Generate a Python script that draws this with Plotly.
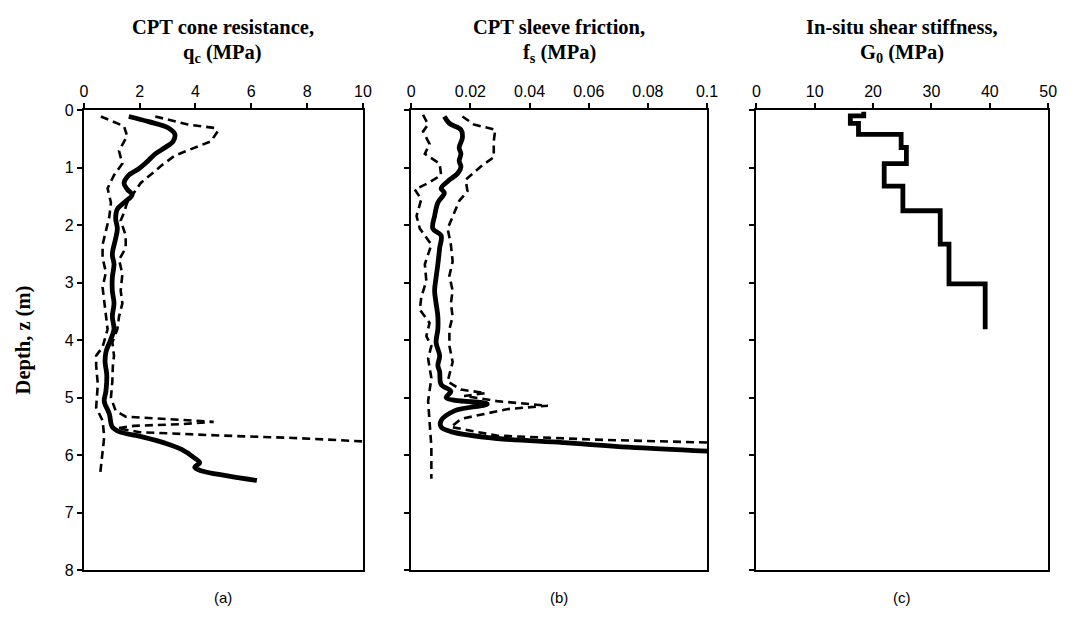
import plotly.graph_objects as go

# ---------------- data ----------------
# Panel (a): cone resistance qc (MPa) vs depth (m)
qc_mean_x = [1.61, 2.32, 3.03, 3.26, 3.2, 2.91, 2.56, 2.26, 1.97, 1.61, 1.44, 1.56, 1.73, 1.44, 1.2, 1.14,
             1.2, 1.14, 1.02, 1.08, 1.02, 1.02, 1.08, 1.02, 1.08, 0.97, 0.79, 0.76, 0.82, 0.79, 0.73, 0.91,
             1.02, 1.26, 2.08, 2.91, 3.5, 3.97, 4.15, 3.97, 4.2, 5.15, 6.2]
qc_mean_z = [0.11, 0.2, 0.31, 0.42, 0.54, 0.65, 0.76, 0.9, 1.02, 1.13, 1.27, 1.38, 1.47, 1.61, 1.72, 1.89,
             2.06, 2.23, 2.51, 2.68, 2.91, 3.14, 3.36, 3.59, 3.81, 3.98, 4.21, 4.38, 4.6, 4.89, 5.06, 5.28,
             5.51, 5.59, 5.68, 5.79, 5.9, 6.05, 6.13, 6.21, 6.27, 6.36, 6.44]

qc_max_x = [2.56, 3.73, 4.68, 4.79, 4.56, 3.97, 3.26, 2.79, 2.44, 2.03, 1.79, 1.55, 1.44, 1.32, 1.5, 1.5,
            1.26, 1.38, 1.32, 1.38, 1.26, 1.2, 1.02, 1.08, 1.04, 1.02, 0.97, 1.14, 1.5, 2.8, 4.65, 3.5, 1.8,
            1.2, 2.0, 5.0, 7.5, 10.0]
qc_max_z = [0.11, 0.25, 0.31, 0.37, 0.54, 0.65, 0.79, 0.96, 1.1, 1.27, 1.44, 1.61, 1.78, 1.92, 2.18, 2.4,
            2.6, 2.85, 3.14, 3.36, 3.59, 3.81, 4.04, 4.27, 4.44, 4.72, 5.0, 5.23, 5.33, 5.37, 5.42, 5.46, 5.49,
            5.53, 5.6, 5.66, 5.7, 5.76]

qc_min_x = [0.61, 1.44, 1.55, 1.26, 1.38, 1.08, 0.85, 0.97, 0.91, 0.79, 0.67, 0.67, 0.79, 0.67, 0.73, 0.79,
            0.85, 0.67, 0.44, 0.44, 0.5, 0.44, 0.67, 0.73, 0.67, 0.59]
qc_min_z = [0.11, 0.28, 0.45, 0.71, 0.93, 1.13, 1.36, 1.61, 1.86, 2.12, 2.34, 2.57, 2.82, 3.08, 3.31, 3.53,
            3.81, 4.12, 4.27, 4.44, 4.77, 5.17, 5.4, 5.68, 5.96, 6.3]

# Panel (b): sleeve friction fs (MPa) vs depth (m)
fs_mean_x = [0.0112, 0.0129, 0.0168, 0.0173, 0.0162, 0.0168, 0.0162, 0.0168, 0.0157, 0.0123, 0.0101, 0.0112,
             0.009, 0.0079, 0.0073, 0.0101, 0.0096, 0.009, 0.0084, 0.0079, 0.0084, 0.009, 0.009, 0.0084,
             0.0096, 0.009, 0.0096, 0.0101, 0.0134, 0.0118, 0.0257, 0.0146, 0.0101, 0.0101, 0.0134, 0.029,
             0.0512, 0.0734, 0.1]
fs_mean_z = [0.11, 0.23, 0.34, 0.48, 0.65, 0.76, 0.88, 0.99, 1.1, 1.24, 1.36, 1.44,
             1.61, 1.84, 2.06, 2.18, 2.4, 2.68, 2.91, 3.14, 3.36, 3.59, 3.81, 4.04,
             4.27, 4.44, 4.55, 4.77, 4.89, 5.0, 5.11, 5.23, 5.4, 5.51, 5.59, 5.71,
             5.78, 5.86, 5.93]

fs_max_x = [0.0173, 0.0212, 0.0284, 0.0279, 0.0279, 0.024, 0.0184, 0.019, 0.0162, 0.014, 0.0123, 0.0134,
            0.014, 0.0129, 0.014, 0.0134, 0.014, 0.0129, 0.0129, 0.014, 0.0134, 0.0123, 0.0168, 0.0251,
            0.0179, 0.029, 0.0462, 0.0323, 0.0168, 0.0134, 0.029, 0.0623, 0.1]
fs_max_z = [0.11, 0.25, 0.34, 0.54, 0.82, 0.96, 1.21, 1.41, 1.58, 1.84, 2.06, 2.34,
            2.63, 2.88, 3.14, 3.36, 3.59, 3.81, 4.1, 4.38, 4.49, 4.72, 4.86, 4.92,
            4.97, 5.06, 5.14, 5.2, 5.37, 5.51, 5.66, 5.73, 5.78]

fs_min_x = [0.004, 0.0057, 0.004, 0.0062, 0.0046, 0.0096, 0.0101, 0.0057, 0.0012, 0.0034, 0.0018, 0.0029,
            0.0068, 0.0046, 0.0051, 0.0034, 0.0029, 0.0062, 0.0051, 0.0068, 0.0057, 0.0068, 0.0057,
            0.0062, 0.0068, 0.0068]
fs_min_z = [0.08, 0.25, 0.37, 0.59, 0.76, 0.93, 1.13, 1.27, 1.38, 1.55, 1.84, 2.06,
            2.34, 2.68, 2.97, 3.25, 3.47, 3.7, 3.93, 4.1, 4.32, 4.66, 5.06,
            5.45, 5.85, 6.41]

# Panel (c): shear stiffness G0 (MPa) per layer
layer_top = [0.03, 0.10, 0.23, 0.42, 0.65, 0.93, 1.32, 1.75, 2.33, 3.02]
layer_bot = [0.10, 0.23, 0.42, 0.65, 0.93, 1.32, 1.75, 2.33, 3.02, 3.81]
g0_vals = [18.4, 16.1, 17.5, 24.8, 25.7, 21.9, 25.1, 31.5, 33.0, 39.2]

qc_ticks = [0, 2, 4, 6, 8, 10]
fs_ticks = [0, 0.02, 0.04, 0.06, 0.08, 0.1]
fs_ticklabels = ["0", "0.02", "0.04", "0.06", "0.08", "0.1"]
g0_ticks = [0, 10, 20, 30, 40, 50]
depth_ticks = [0, 1, 2, 3, 4, 5, 6, 7, 8]

# build step coordinates for G0
g0_x, g0_z = [], []
for t, b, g in zip(layer_top, layer_bot, g0_vals):
    g0_x += [g, g]
    g0_z += [t, b]

# ---------------- figure ----------------
W, H = 1075, 622
def xd(a, b):
    return [a / W, b / W]
ydom = [1 - 578 / H, 1 - 105 / H]

fig = go.Figure()
solid = dict(color="black", width=4.8)
dashed = dict(color="black", width=2.6, dash="8px,5px")

fig.add_trace(go.Scatter(x=qc_min_x, y=qc_min_z, mode="lines", line=dashed, xaxis="x", yaxis="y"))
fig.add_trace(go.Scatter(x=qc_max_x, y=qc_max_z, mode="lines", line=dashed, xaxis="x", yaxis="y"))
fig.add_trace(go.Scatter(x=qc_mean_x, y=qc_mean_z, mode="lines", line=solid, line_shape="spline",
                         xaxis="x", yaxis="y"))

fig.add_trace(go.Scatter(x=fs_min_x, y=fs_min_z, mode="lines", line=dashed, xaxis="x2", yaxis="y2"))
fig.add_trace(go.Scatter(x=fs_max_x, y=fs_max_z, mode="lines", line=dashed, xaxis="x2", yaxis="y2"))
fig.add_trace(go.Scatter(x=fs_mean_x, y=fs_mean_z, mode="lines", line=solid, line_shape="spline",
                         xaxis="x2", yaxis="y2"))

fig.add_trace(go.Scatter(x=g0_x, y=g0_z, mode="lines", line=dict(color="black", width=4.8),
                         xaxis="x3", yaxis="y3"))

tickfont = dict(family="Liberation Sans, Arial", size=16, color="black")
common_x = dict(side="top", showline=True, linecolor="black", linewidth=2, mirror=True,
                ticks="outside", ticklen=5, tickwidth=1.5, tickcolor="black",
                showgrid=False, zeroline=False, tickfont=tickfont, fixedrange=True)
common_y = dict(range=[8, 0], tickvals=depth_ticks, showline=True, linecolor="black", linewidth=2,
                mirror=True, ticks="outside", ticklen=5, tickwidth=1.5, tickcolor="black",
                showgrid=False, zeroline=False, tickfont=tickfont)

fig.update_layout(
    width=W, height=H, margin=dict(l=0, r=0, t=0, b=0),
    paper_bgcolor="white", plot_bgcolor="white", showlegend=False,
    xaxis=dict(domain=xd(81, 364), range=[0, 10], tickvals=qc_ticks, anchor="y", **common_x),
    xaxis2=dict(domain=xd(413, 713), range=[0, 0.1], tickvals=fs_ticks, ticktext=fs_ticklabels,
                anchor="y2", **common_x),
    xaxis3=dict(domain=xd(763, 1059), range=[0, 50], tickvals=g0_ticks, anchor="y3", **common_x),
    yaxis=dict(domain=ydom, anchor="x", showticklabels=True, **common_y),
    yaxis2=dict(domain=ydom, anchor="x2", showticklabels=False, **common_y),
    yaxis3=dict(domain=ydom, anchor="x3", showticklabels=False, **common_y),
)

titlefont = dict(family="Liberation Serif, Times New Roman, serif", size=20.5, color="black")
titles = [
    ("<b>CPT cone resistance,</b>", "<b>q<sub>c</sub> (MPa)</b>", 222),
    ("<b>CPT sleeve friction,</b>", "<b>f<sub>s</sub> (MPa)</b>", 563),
    ("<b>In-situ shear stiffness,</b>", "<b>G<sub>0</sub> (MPa)</b>", 911),
]
for l1, l2, cx in titles:
    fig.add_annotation(x=cx / W, y=1 - 20 / H, xref="paper", yref="paper", text=l1, showarrow=False,
                       font=titlefont, xanchor="center", yanchor="middle")
    fig.add_annotation(x=cx / W, y=1 - 47 / H, xref="paper", yref="paper", text=l2, showarrow=False,
                       font=titlefont, xanchor="center", yanchor="middle")

fig.add_annotation(x=20 / W, y=1 - 341 / H, xref="paper", yref="paper", text="<b>Depth, z (m)</b>",
                   showarrow=False, textangle=-90, font=titlefont, xanchor="center", yanchor="middle")

labfont = dict(family="Liberation Sans, Arial", size=15, color="black")
for lab, cx in [("(a)", 222), ("(b)", 563), ("(c)", 911)]:
    fig.add_annotation(x=cx / W, y=1 - 606 / H, xref="paper", yref="paper", text=lab, showarrow=False,
                       font=labfont, xanchor="center", yanchor="middle")

fig.write_html("out.html")
